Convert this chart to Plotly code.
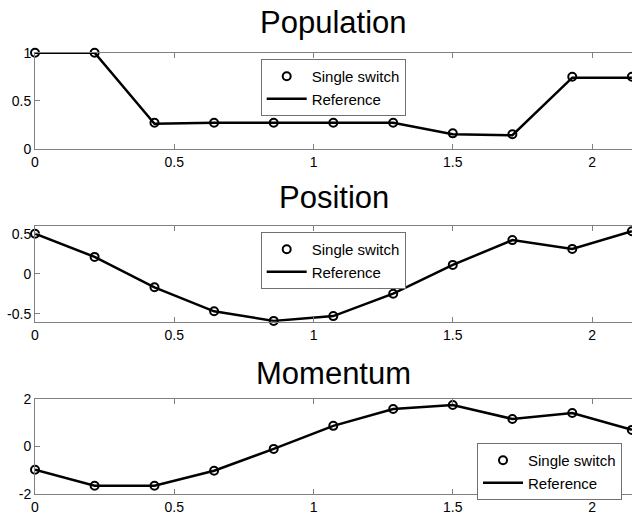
import plotly.graph_objects as go

# Time grid shared by all three panels
t = [0, 0.214, 0.429, 0.643, 0.857, 1.071, 1.286, 1.5, 1.714, 1.929, 2.143]

# Population
pop_switch = [1.0, 1.0, 0.27, 0.27, 0.27, 0.27, 0.27, 0.16, 0.15, 0.75, 0.75]
pop_ref = [1.0, 1.0, 0.26, 0.27, 0.27, 0.27, 0.27, 0.15, 0.14, 0.74, 0.74]

# Position
pos_switch = [0.5, 0.21, -0.17, -0.47, -0.59, -0.53, -0.25, 0.11, 0.42, 0.31, 0.53]
pos_ref = [0.5, 0.21, -0.17, -0.47, -0.59, -0.53, -0.25, 0.11, 0.42, 0.31, 0.53]

# Momentum
mom_switch = [-0.98, -1.65, -1.65, -1.02, -0.10, 0.87, 1.58, 1.75, 1.16, 1.41, 0.70]
mom_ref = [-0.98, -1.65, -1.65, -1.02, -0.10, 0.87, 1.58, 1.75, 1.16, 1.41, 0.70]

titles = ["Population", "Position", "Momentum"]
x_ticks = [0, 0.5, 1, 1.5, 2]
x_ticktext = ["0", "0.5", "1", "1.5", "2"]
y_ticks = [[0, 0.5, 1], [-0.5, 0, 0.5], [-2, 0, 2]]
y_ticktext = [["0", "0.5", "1"], ["-0.5", "0", "0.5"], ["-2", "0", "2"]]
y_ranges = [[0, 1], [-0.6, 0.6], [-2, 2]]

W, H = 632, 514
ML = 35
FONT = "Liberation Sans, Arial, sans-serif"
AXIS_GRAY = "#808080"

# panel boxes in pixels (top, bottom)
boxes = [(52.7, 148.7), (225.7, 321.7), (399.0, 494.0)]
title_y_px = [23, 198, 373]
legend_pos_px = [(260.7, 59), (260.7, 232), (477, 443)]

fig = go.Figure()

series = [(pop_switch, pop_ref), (pos_switch, pos_ref), (mom_switch, mom_ref)]
for i, (sw, ref) in enumerate(series):
    sfx = "" if i == 0 else str(i + 1)
    leg = "legend" if i == 0 else f"legend{i + 1}"
    fig.add_trace(go.Scatter(
        x=t, y=ref, mode="lines", name="Reference",
        line=dict(color="black", width=2.5),
        xaxis="x" + sfx, yaxis="y" + sfx, legend=leg, cliponaxis=False,
    ))
    fig.add_trace(go.Scatter(
        x=t, y=sw, mode="markers", name="Single switch",
        marker=dict(symbol="circle-open", size=8, color="black",
                    line=dict(width=2, color="black")),
        xaxis="x" + sfx, yaxis="y" + sfx, legend=leg, cliponaxis=False,
    ))

layout = dict(
    width=W, height=H,
    margin=dict(l=ML, r=0, t=0, b=0),
    paper_bgcolor="white", plot_bgcolor="white",
    font=dict(family=FONT, color="black", size=14),
    annotations=[],
)

xmax = 2.1435
for i in range(3):
    sfx = "" if i == 0 else str(i + 1)
    top, bot = boxes[i]
    dom = [1 - bot / H, 1 - top / H]
    layout["xaxis" + sfx] = dict(
        domain=[0, 1], range=[0, xmax], anchor="y" + sfx,
        tickmode="array", tickvals=x_ticks, ticktext=x_ticktext,
        ticks="inside", ticklen=5, tickcolor=AXIS_GRAY,
        showline=True, linecolor=AXIS_GRAY, linewidth=1, mirror="ticks",
        showgrid=False, zeroline=False, automargin=False,
        tickfont=dict(size=14, family=FONT, color="black"),
    )
    layout["yaxis" + sfx] = dict(
        domain=dom, range=y_ranges[i], anchor="x" + sfx,
        tickmode="array", tickvals=y_ticks[i], ticktext=y_ticktext[i],
        ticks="inside", ticklen=5, tickcolor=AXIS_GRAY,
        showline=True, linecolor=AXIS_GRAY, linewidth=1, mirror=False,
        showgrid=False, zeroline=False, automargin=False,
        tickfont=dict(size=14, family=FONT, color="black"),
    )
    layout["annotations"].append(dict(
        text=titles[i], xref="paper", yref="paper",
        x=0.5, y=1 - title_y_px[i] / H, xanchor="center", yanchor="middle",
        showarrow=False, font=dict(size=31, family=FONT, color="black"),
    ))
    lx, ly = legend_pos_px[i]
    layout["legend" if i == 0 else f"legend{i + 1}"] = dict(
        x=(lx - ML) / (W - ML), y=1 - ly / H, xanchor="left", yanchor="top",
        xref="paper", yref="paper",
        bgcolor="white", bordercolor="#707070", borderwidth=1,
        font=dict(size=15, family=FONT, color="black"),
        traceorder="reversed", itemwidth=40, tracegroupgap=0,
    )

fig.update_layout(**layout)
fig.write_html("out.html")
